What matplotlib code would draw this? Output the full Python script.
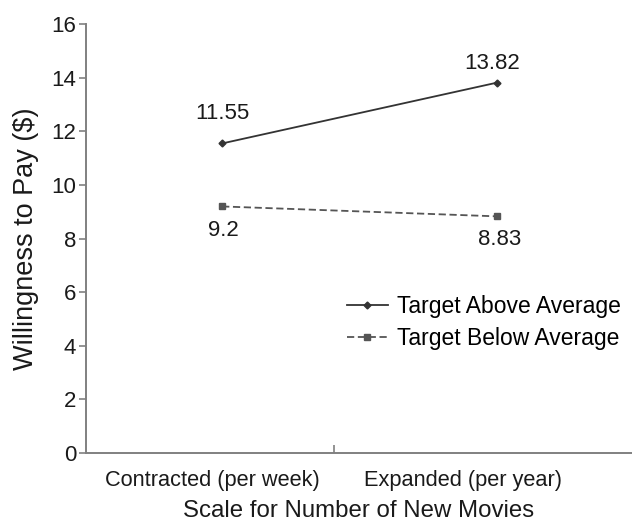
import matplotlib
matplotlib.use('Agg')
import matplotlib.pyplot as plt

plt.rcParams['font.family'] = ['Liberation Sans', 'DejaVu Sans']

# Data
categories = ['Contracted (per week)', 'Expanded (per year)']
above = [11.55, 13.82]
below = [9.2, 8.83]
above_labels = ['11.55', '13.82']
below_labels = ['9.2', '8.83']

TXT = '#1a1a1a'
fig = plt.figure(figsize=(6.32, 5.25), dpi=100)
ax = fig.add_axes([0.136, 0.137, 0.864, 0.817])

x = [0, 1]
ax.plot(x, above, color='#333333', lw=1.3, marker='D', ms=3.5,
        label='Target Above Average')
ax.plot(x, below, color='#555555', lw=1.3, ls=(0, (4, 2)), marker='s', ms=4.5,
        label='Target Below Average')

# value labels (offsets in points, dpi 100 -> 1pt = 1.39px)
ax.annotate(above_labels[0], (x[0], above[0]), xytext=(0, 14), textcoords='offset points',
            ha='center', va='bottom', fontsize=16, color=TXT)
ax.annotate(above_labels[1], (x[1], above[1]), xytext=(-4, 6), textcoords='offset points',
            ha='center', va='bottom', fontsize=16, color=TXT)
ax.annotate(below_labels[0], (x[0], below[0]), xytext=(1, -10), textcoords='offset points',
            ha='center', va='top', fontsize=16, color=TXT)
ax.annotate(below_labels[1], (x[1], below[1]), xytext=(2, -9), textcoords='offset points',
            ha='center', va='top', fontsize=16, color=TXT)

ax.set_xlim(-0.495, 1.49)
ax.set_ylim(0, 16)
ax.set_yticks(range(0, 17, 2))

# category labels sit between the separator ticks
ax.set_xticks([-0.036, 0.876])
ax.set_xticklabels(categories)
ax.tick_params(axis='x', length=0, pad=12, labelsize=15.7, labelcolor=TXT)
ax.set_xticks([0.407], minor=True)
ax.tick_params(axis='x', which='minor', length=6, direction='in', color='#808080', width=1.2)
ax.tick_params(axis='y', length=5, width=1.2, color='#808080', labelsize=16,
               labelcolor=TXT, pad=2)

for s in ['top', 'right']:
    ax.spines[s].set_visible(False)
for s in ['left', 'bottom']:
    ax.spines[s].set_color('#808080')
    ax.spines[s].set_linewidth(1.4)

ax.set_ylabel('Willingness to Pay ($)', fontsize=19.5, color=TXT, labelpad=9)
ax.set_xlabel('Scale for Number of New Movies', fontsize=17.3, color=TXT, labelpad=7)

ax.legend(loc='center left', bbox_to_anchor=(0.461, 0.305), frameon=False, fontsize=16.5,
          handlelength=1.8, handletextpad=0.4, labelspacing=0.4, borderaxespad=0)

fig.savefig('out.png', dpi=100)
